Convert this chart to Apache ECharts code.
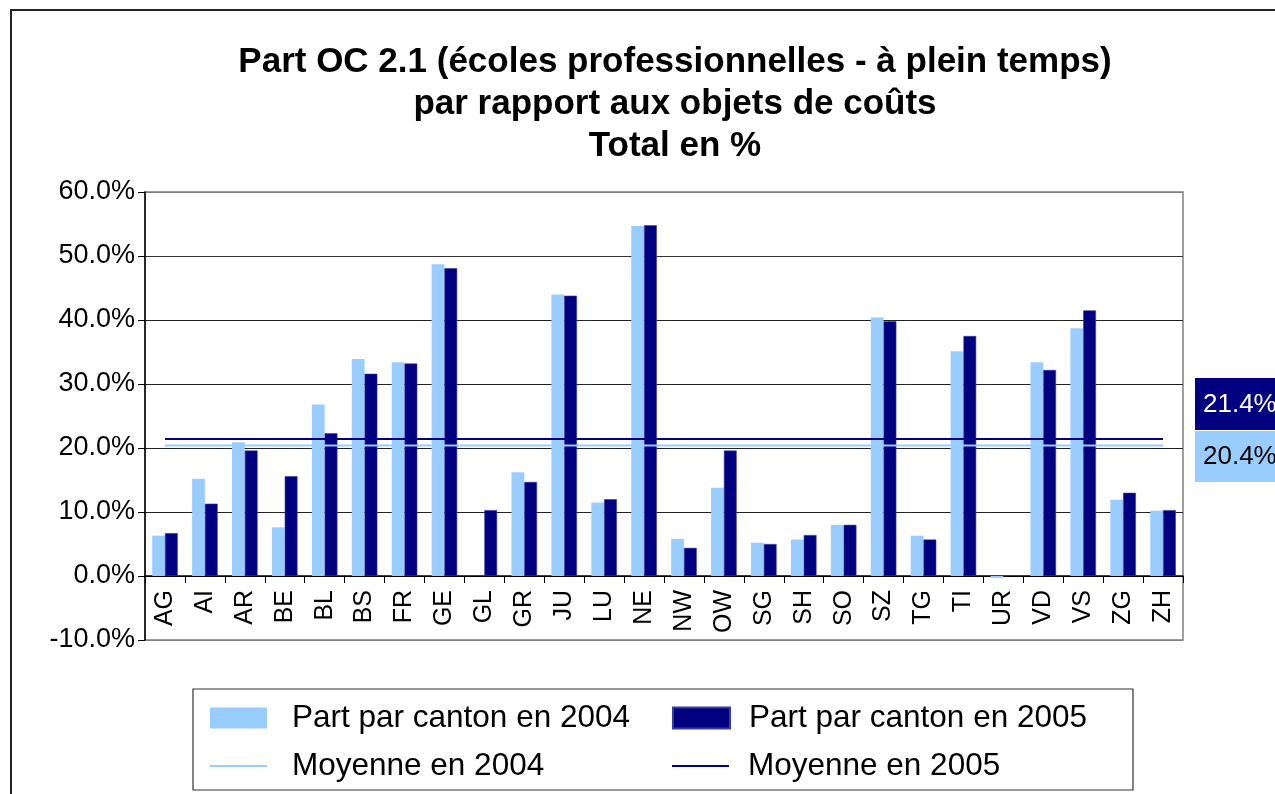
<!DOCTYPE html>
<html>
<head>
<meta charset="utf-8">
<script src="https://cdn.jsdelivr.net/npm/echarts@6/dist/echarts.min.js"></script>
<style>html,body{margin:0;padding:0;background:#fff;}#c{width:1275px;height:794px;}</style>
</head>
<body>
<div id="c"></div>
<script>
const categories = ['AG','AI','AR','BE','BL','BS','FR','GE','GL','GR','JU','LU','NE','NW','OW','SG','SH','SO','SZ','TG','TI','UR','VD','VS','ZG','ZH'];
const part2004 = [6.3,15.2,20.9,7.6,26.8,33.9,33.4,48.7,null,16.2,44.0,11.5,54.7,5.8,13.8,5.2,5.7,8.0,40.4,6.3,35.1,-0.3,33.4,38.7,11.9,10.2];
const part2005 = [6.7,11.3,19.6,15.6,22.3,31.6,33.2,48.1,10.3,14.7,43.8,12.0,54.8,4.4,19.6,5.0,6.4,8.0,39.8,5.7,37.5,null,32.2,41.5,13.0,10.3];
const moyenne2004 = 20.4;
const moyenne2005 = 21.4;
const yTicks = [-10,0,10,20,30,40,50,60];
const titleLines = ['Part OC 2.1 (écoles professionnelles - à plein temps)','par rapport aux objets de coûts','Total en %'];
const seriesNames = ['Part par canton en 2004','Part par canton en 2005','Moyenne en 2004','Moyenne en 2005'];

const LIGHT = '#99CCFF', DARK = '#000080';
const FONT = '"Liberation Sans", Arial, sans-serif';
const LINE_ICON = 'path://M0,0 L57,0 L57,2 L0,2 Z';

const chart = echarts.init(document.getElementById('c'), null, {renderer:'canvas'});
function lg(name, left, top, icon, gap) {
  return {data:[{name:name, icon:icon}], left:left, top:top, padding:0, itemWidth:57, itemHeight:21,
    textStyle:{fontFamily: FONT, fontSize: 31.5, color:'#000', lineHeight: 32, padding:[0,0,0,gap]}, selectedMode:false};
}
const gridTop = 192, gridBottom = 154, gridH = 794 - gridTop - gridBottom;
const zeroOffset = -gridH * (0 - yTicks[0]) / (yTicks[yTicks.length-1] - yTicks[0]);
const option = {
  animation:false,
  backgroundColor:'#fff',
  title:{
    text: titleLines.join('\n'),
    left: 670, top: 36, textAlign:'center',
    textStyle:{fontFamily:FONT, fontSize:35, fontWeight:'bold', color:'#000', lineHeight:42}
  },
  legend:[
    lg(seriesNames[0], 210, 702, 'rect', 20),
    lg(seriesNames[1], 672, 702, 'rect', 14),
    lg(seriesNames[2], 210, 750, LINE_ICON, 20),
    lg(seriesNames[3], 672, 750, LINE_ICON, 14)
  ],
  grid:{left:145, right:92, top:gridTop, bottom:gridBottom, show:true, borderColor:'#808080', borderWidth:1.5, backgroundColor:'transparent'},
  xAxis:{
    type:'category', data:categories, offset: zeroOffset,
    axisLine:{onZero:false, lineStyle:{color:'#000', width:1.5}},
    axisTick:{show:true, length:7, lineStyle:{color:'#000', width:1}},
    axisLabel:{rotate:90, fontFamily:FONT, fontSize:25, color:'#000', margin:14},
    splitLine:{show:false}
  },
  yAxis:{
    type:'value', min:yTicks[0], max:yTicks[yTicks.length-1], interval:10,
    axisLine:{show:true, lineStyle:{color:'#000', width:1.5}},
    axisTick:{show:true, length:7, lineStyle:{color:'#000'}},
    axisLabel:{fontFamily:FONT, fontSize:27, color:'#000', margin:10, formatter:v=>v.toFixed(1)+'%'},
    splitLine:{show:true, lineStyle:{color:['#808080','#000','#222','#222','#222','#222','#333','#808080'], width:1.2}}
  },
  series:[
    {name:seriesNames[0], type:'bar', data:part2004, barGap:'0%', barCategoryGap:'36%', itemStyle:{color:LIGHT}, z:2},
    {name:seriesNames[1], type:'bar', data:part2005, itemStyle:{color:DARK, borderColor:'#3a3aa0', borderWidth:0.6}, z:2},
    {name:seriesNames[2], type:'line', data:categories.map(()=>moyenne2004), symbol:'none', lineStyle:{color:LIGHT, width:2}, itemStyle:{color:LIGHT}, z:5},
    {name:seriesNames[3], type:'line', data:categories.map(()=>moyenne2005), symbol:'none', lineStyle:{color:DARK, width:2}, itemStyle:{color:DARK}, z:5}
  ],
  graphic:[
    {type:'rect', shape:{x:11, y:10, width:1300, height:820}, style:{fill:null, stroke:'#222', lineWidth:2}, silent:true, z:-1},
    {type:'rect', shape:{x:193, y:689, width:940, height:101}, style:{fill:null, stroke:'#333', lineWidth:1.2}, silent:true},
    {type:'rect', shape:{x:1195, y:378, width:100, height:52}, style:{fill:DARK}, silent:true},
    {type:'text', x:1203, y:405, style:{text:moyenne2005.toFixed(1)+'%', fill:'#fff', font:'26px '+FONT, verticalAlign:'middle'}, silent:true},
    {type:'rect', shape:{x:1195, y:431, width:100, height:51}, style:{fill:LIGHT}, silent:true},
    {type:'text', x:1203, y:457, style:{text:moyenne2004.toFixed(1)+'%', fill:'#000', font:'26px '+FONT, verticalAlign:'middle'}, silent:true}
  ]
};
chart.setOption(option);
</script>
</body>
</html>
